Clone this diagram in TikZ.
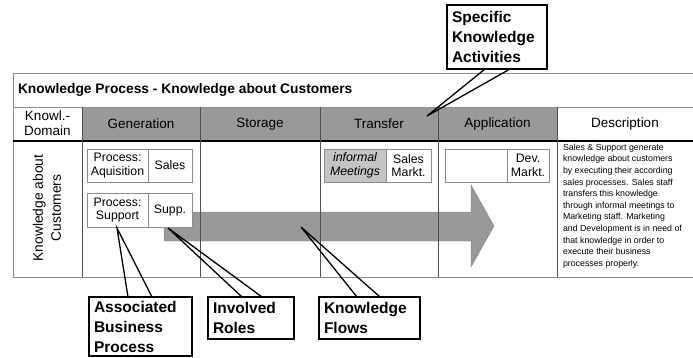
\documentclass[tikz,border=0pt]{standalone}
\usepackage{fontspec}
\setmainfont{Liberation Sans}
\usetikzlibrary{calc}
\definecolor{headgray}{HTML}{999999}
\definecolor{softgray}{HTML}{C4C4C4}
\definecolor{rulegray}{HTML}{8C8C8C}
\definecolor{colgray}{HTML}{505050}

\begin{document}
\begin{tikzpicture}[x=1pt,y=-1pt,
  every node/.style={inner sep=0pt, outer sep=0pt},
  rule/.style={draw=rulegray, line width=0.8pt},
  colrule/.style={draw=colgray, line width=0.7pt},
  headtext/.style={font=\fontsize{13.5}{15.5}\selectfont, align=center},
  cell/.style={draw=rulegray, line width=0.7pt, fill=white, anchor=north west,
    font=\fontsize{12.3}{13.5}\selectfont, align=center},
  callout/.style={draw=black, line width=1.3pt, fill=white, anchor=north west,
    font=\fontsize{15.5}{20}\selectfont\bfseries, align=left, inner xsep=5pt},
  pointer/.style={draw=black, line width=1.3pt},
]
\useasboundingbox (0,0) rectangle (693,358);

% shaded header band of the activity columns
\fill[headgray] (82,107) rectangle (557,141);

% knowledge flow arrow
\filldraw[fill=headgray, draw=headgray!85!black, line width=0.4pt]
  (164,212) -- (471,212) -- (471,185) -- (494,226) -- (471,267)
  -- (471,241) -- (164,241) -- cycle;

% table rules
\draw[rule] (13,73) -- (693,73);
\draw[rule] (13,107) -- (693,107);
\draw[rule] (13,277) -- (693,277);
\draw[rule] (13,73) -- (13,277);
\draw[draw=black, line width=1.3pt] (13,141) -- (693,141);
\foreach \cx in {82,200,320,438,557}
  \draw[colrule] (\cx,107) -- (\cx,277);

% title and column headers
\node[anchor=west, font=\fontsize{13.8}{16}\selectfont\bfseries] (title) at (18,90)
  {Knowledge Process - Knowledge about Customers};
\node[headtext, font=\fontsize{13.5}{15}\selectfont] (hDom) at (47.5,123) {Knowl.-\\Domain};
\node[headtext] (hGen) at (141,124) {Generation};
\node[headtext] (hSto) at (260,124) {Storage};
\node[headtext] (hTrf) at (379,124) {Transfer};
\node[headtext] (hApp) at (497.5,124) {Application};
\node[headtext] (hDes) at (625,124) {Description};

% domain label
\node[rotate=90, font=\fontsize{13.8}{18}\selectfont, align=center] (dom) at (47,208)
  {Knowledge about\\Customers};

% process / role boxes
\node[cell, minimum width=61pt, minimum height=33pt] (acqP) at (87,149) {Process:\\Aquisition};
\node[cell, minimum width=44pt, minimum height=33pt] (acqR) at (148,149) {Sales};
\node[cell, minimum width=61pt, minimum height=34pt] (supP) at (87,193) {Process:\\Support};
\node[cell, minimum width=44pt, minimum height=34pt] (supR) at (148,193) {Supp.};
\node[cell, fill=softgray, font=\fontsize{12.3}{13.5}\selectfont\itshape,
  minimum width=62pt, minimum height=33pt] (trfP) at (324,149) {informal\\Meetings};
\node[cell, minimum width=45pt, minimum height=33pt] (trfR) at (386,149) {Sales\\Markt.};
\node[cell, minimum width=62pt, minimum height=33pt] (appP) at (445,149) {};
\node[cell, minimum width=42pt, minimum height=33pt] (appR) at (507,149) {Dev.\\Markt.};

% description
\node[anchor=north west, font=\fontsize{8.8}{11.6}\selectfont, align=left] (desc) at (563,144)
  {Sales \& Support generate\\
   knowledge about customers\\
   by executing their according\\
   sales processes. Sales staff\\
   transfers this knowledge\\
   through informal meetings to\\
   Marketing staff. Marketing\\
   and Development is in need of\\
   that knowledge in order to\\
   execute their business\\
   processes properly.};

% callout boxes
\node[callout, text width=90pt, minimum height=64pt] (cAct) at (447,5)
  {Specific\\Knowledge\\Activities};
\node[callout, text width=93pt, minimum height=59pt] (cProc) at (89,297)
  {Associated\\Business\\Process};
\node[callout, text width=76pt, minimum height=42pt] (cRole) at (208,297)
  {Involved\\Roles};
\node[callout, text width=91pt, minimum height=42pt] (cFlow) at (319,297)
  {Knowledge\\Flows};

% callout tips
\coordinate (tAct) at (427,116);
\coordinate (tProc) at (117,228);
\coordinate (tRole) at (168,228);
\coordinate (tFlow) at (301,227);

% callout pointers
\draw[pointer] ($(cAct.south west)+(38,0)$) -- (tAct) -- ($(cAct.south west)+(63,0)$);
\draw[pointer] ($(cProc.north west)+(39,0)$) -- (tProc) -- ($(cProc.north west)+(63,0)$);
\draw[pointer] ($(cRole.north west)+(34,0)$) -- (tRole) -- ($(cRole.north west)+(54,0)$);
\draw[pointer] ($(cFlow.north west)+(38,0)$) -- (tFlow) -- ($(cFlow.north west)+(61,0)$);
\end{tikzpicture}
\end{document}
